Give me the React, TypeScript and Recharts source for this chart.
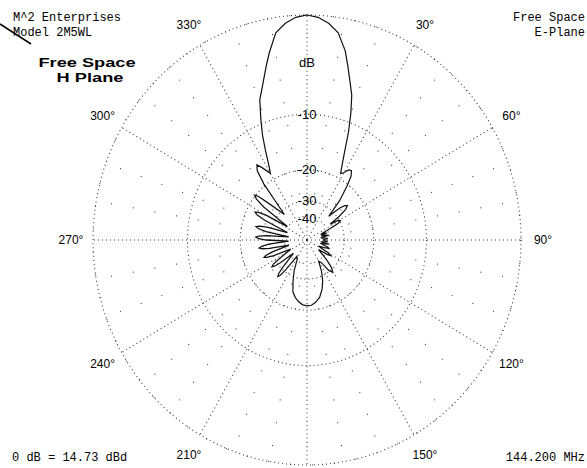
import { RadarChart, Radar, PolarGrid, PolarAngleAxis, PolarRadiusAxis } from 'recharts';

// measured pattern: compass angle (deg, clockwise from top) and relative gain (dB)
const PATTERN_ANGLES = [
  0, 3, 6, 9, 12, 14, 16, 18, 20, 22, 24, 26, 28, 30, 32, 34, 36, 38, 41, 44, 47, 49, 51, 53, 55, 57,
  59, 61, 63, 65, 68, 71, 74, 78, 82, 86, 90, 94, 97, 100, 104, 108, 110, 113, 117, 120, 122, 124, 128,
  134, 137, 140, 143, 146, 150, 154, 158, 162, 167, 172, 176, 180, 184, 188, 192, 196, 200, 204, 208,
  213, 217, 218.5, 220, 221.5, 223, 227, 231, 232.5, 234, 235.5, 237, 242, 246, 247.5, 249, 250.5, 252,
  255, 258, 259.5, 261, 262.5, 264, 267, 270, 271.5, 273, 274.5, 276, 279, 281, 282.5, 284, 285.5, 287,
  290, 294, 295.5, 297, 298.5, 300, 303, 306, 307.5, 309, 310.5, 312, 317, 321, 323, 325, 327, 330,
  332, 334, 336, 338, 340.5, 343, 346, 348, 351, 354, 357,
];
const PATTERN_DB = [
  0, -0.15, -0.55, -1.2, -2.6, -4.0, -5.4, -6.7, -8.8, -11.3, -14.3, -16.8, -18.8, -18.2, -17.2, -17.0, -18.0, -20.5, -25, -33, -27, -25, -24.3, -25.5, -29, -35,
  -30.5, -29.6, -31, -37, -46, -40, -46, -39, -47, -40, -44, -40, -47, -39, -47, -39, -38, -42, -48, -37, -35, -37, -46,
  -35, -30.5, -28.7, -30.5, -36, -38, -32, -28, -25.3, -23, -21.8, -21.2, -21.1, -21.3, -22, -23, -24.5, -28.5, -33, -40,
  -42, -30.5, -27.6, -26.6, -27.6, -30.5, -42, -31.4, -28.4, -27.4, -28.4, -31.4, -42, -30.4, -27.4, -26.4, -27.4, -30.4,
  -42, -29.5, -26.5, -25.5, -26.5, -29.5, -42, -28.5, -25.5, -24.5, -25.5, -28.5, -42, -28.1, -25.1, -24.1, -25.1, -28.1,
  -40, -26.3, -23.3, -22.3, -23.3, -26.3, -38, -23.8, -20.8, -19.8, -20.8, -23.8, -32, -19.5, -16.3, -15.4, -16.5, -18.4,
  -16.5, -14.0, -11.5, -9.5, -7.1, -5.8, -4.0, -2.8, -1.2, -0.55, -0.15,
];

const RING_DB = [0, -10, -20, -30];
const MAJOR_ANGLES = [0, 30, 60, 90, 120, 150, 180, 210, 240, 270, 300, 330];
const MINOR_ANGLES = [10, 20, 40, 50, 70, 80, 100, 110, 130, 140, 160, 170, 190, 200, 220, 230, 250, 260, 280, 290, 310, 320, 340, 350];
const ANGLE_TICKS = [30, 60, 90, 120, 150, 210, 240, 270, 300, 330];
const RADIUS_TICK_DB = [-4.1, -10, -20, -30, -40];
const RADIUS_TICK_LABELS = ['dB', '-10', '-20', '-30', '-40'];

const W = 587;
const H = 468;
const CX = 307;
const CY = 240;
const R = 214;
const STRETCH = 225 / 214; // the original screen plot is slightly taller than wide

// ARRL log scale: every 2 dB down shrinks the radius by 0.89
const arrl = (db: number) => Math.pow(0.89, -db / 2);

const data = PATTERN_ANGLES.map((a, i) => ({ angle: a, r: arrl(PATTERN_DB[i]) }));
const radiusTicks = RADIUS_TICK_DB.map(arrl);

const sans = '"Liberation Sans", Arial, sans-serif';
const mono = '"Liberation Mono", "DejaVu Sans Mono", monospace';

const AngleTick = (props: any) => {
  const { x, y, payload } = props;
  return (
    <text x={x} y={y} textAnchor="middle" dominantBaseline="central" fontSize={12} fontFamily={sans} fill="#000">
      {payload.value}°
    </text>
  );
};

const RadiusTick = (props: any) => {
  const { x, y, payload } = props;
  let idx = 0;
  radiusTicks.forEach((t, i) => {
    if (Math.abs(t - payload.value) < Math.abs(radiusTicks[idx] - payload.value)) idx = i;
  });
  return (
    <text x={x} y={y} textAnchor="middle" dominantBaseline="central" fontSize={13} fontFamily={sans} fill="#000">
      {RADIUS_TICK_LABELS[idx]}
    </text>
  );
};

const txt = (pos: any, s: string, extra: any = {}) => (
  <div
    style={{
      position: 'absolute',
      ...pos,
      fontFamily: mono,
      fontSize: 12,
      lineHeight: '14px',
      whiteSpace: 'nowrap',
      color: '#000',
      ...extra,
    }}
  >
    {s}
  </div>
);

export default function App() {
  return (
    <div style={{ position: 'absolute', left: 0, top: 0, width: W, height: H, overflow: 'hidden', background: '#fff' }}>
      <div style={{ position: 'absolute', left: 0, top: 0, transform: `scale(1, ${STRETCH})`, transformOrigin: `${CX}px ${CY}px` }}>
        <RadarChart width={W} height={H} data={data} cx={CX} cy={CY} outerRadius={R} margin={{ top: 0, right: 0, bottom: 0, left: 0 }}>
          <PolarGrid
            gridType="circle"
            polarAngles={MAJOR_ANGLES}
            polarRadius={RING_DB.map((d) => R * arrl(d))}
            stroke="#333"
            strokeDasharray="1 3"
          />
          <PolarGrid gridType="circle" polarAngles={MINOR_ANGLES} polarRadius={[R]} stroke="#333" strokeDasharray="1 21" />
          <PolarAngleAxis
            dataKey="angle"
            type="number"
            domain={[0, 360]}
            ticks={ANGLE_TICKS}
            tick={<AngleTick />}
            tickLine={false}
            axisLine={false}
            tickSize={22}
          />
          <PolarRadiusAxis
            angle={90}
            type="number"
            domain={[0, 1]}
            ticks={radiusTicks}
            tick={<RadiusTick />}
            axisLine={false}
            tickLine={false}
          />
          <Radar dataKey="r" stroke="#111" strokeWidth={1.2} fill="none" fillOpacity={0} dot={false} isAnimationActive={false} />
        </RadarChart>
      </div>

      {txt({ left: 13, top: 11 }, 'M^2 Enterprises')}
      {txt({ left: 13, top: 26 }, 'Model 2M5WL')}
      <svg style={{ position: 'absolute', left: 0, top: 0 }} width={40} height={50}>
        <line x1={0} y1={24} x2={31} y2={44} stroke="#000" strokeWidth={1.5} />
      </svg>
      {txt({ left: 87, top: 63 }, 'Free Space', { fontFamily: sans, fontWeight: 'bold', fontSize: 13, transform: 'translate(-50%, -50%) scaleX(1.4)' })}
      {txt({ left: 90, top: 78 }, 'H Plane', { fontFamily: sans, fontWeight: 'bold', fontSize: 13, transform: 'translate(-50%, -50%) scaleX(1.4)' })}
      {txt({ right: 2, top: 11 }, 'Free Space')}
      {txt({ right: 2, top: 26 }, 'E-Plane')}
      {txt({ left: 12, top: 451 }, '0 dB = 14.73 dBd')}
      {txt({ right: 2, top: 451 }, '144.200 MHz')}
    </div>
  );
}
